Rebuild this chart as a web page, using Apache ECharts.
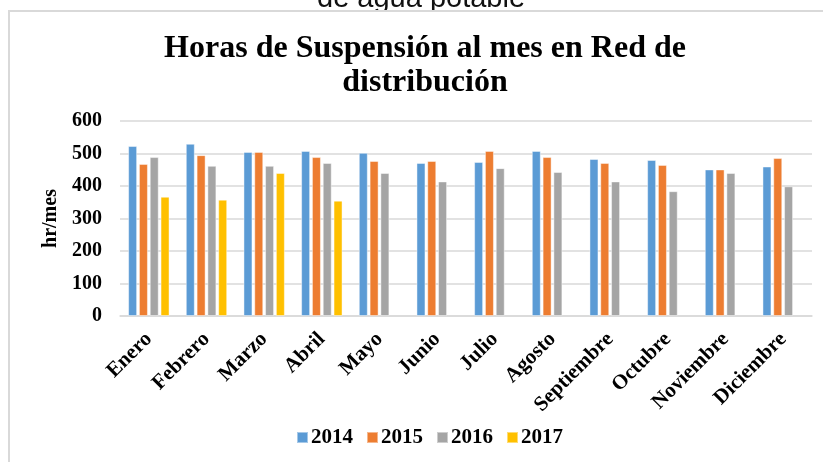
<!DOCTYPE html>
<html>
<head>
<meta charset="utf-8">
<script src="https://cdn.jsdelivr.net/npm/echarts@6/dist/echarts.min.js"></script>
<style>
  html, body { margin: 0; padding: 0; background: #fff; }
  #main { width: 823px; height: 462px; }
</style>
</head>
<body>
<div id="main"></div>
<script>
// meses y horas de suspension
var meses = ['Enero', 'Febrero', 'Marzo', 'Abril', 'Mayo', 'Junio', 'Julio',
    'Agosto', 'Septiembre', 'Octubre', 'Noviembre', 'Diciembre'];
var anios = ['2014', '2015', '2016', '2017'];
var horas2014 = [523, 530, 505, 508, 502, 471, 474, 508, 483, 480, 451, 460];
var horas2015 = [468, 495, 505, 489, 477, 477, 508, 489, 471, 465, 451, 486];
var horas2016 = [489, 462, 462, 471, 440, 414, 455, 443, 414, 384, 440, 399];
var horas2017 = [367, 358, 440, 355, null, null, null, null, null, null, null, null];
var yTicks = [0, 100, 200, 300, 400, 500, 600];

var colores = ['#5B9BD5', '#ED7D31', '#A5A5A5', '#FFC000'];
var serif = '"Liberation Serif", "Times New Roman", serif';

var myChart = echarts.init(document.getElementById('main'));

function barra(name, data, i) {
    return {
        name: name,
        type: 'bar',
        data: data,
        barWidth: 9,
        barGap: '20%',
        itemStyle: {
            color: colores[i],
            borderColor: 'rgba(255,255,255,0.45)',
            borderWidth: 1
        }
    };
}

myChart.setOption({
    animation: false,
    backgroundColor: '#fff',
    graphic: [
        {
            type: 'text',
            left: 317,
            top: -16,
            z: 0,
            style: {
                text: 'de agua potable',
                font: '29px "Liberation Sans", Arial, sans-serif',
                fill: '#111'
            }
        },
        {
            type: 'rect',
            shape: { x: 0, y: 11, width: 823, height: 8 },
            z: 1,
            style: { fill: '#fff' }
        },
        {
            type: 'rect',
            shape: { x: 9, y: 11, width: 830, height: 470 },
            z: 2,
            style: { fill: 'none', stroke: '#d9d9d9', lineWidth: 2 }
        }
    ],
    title: {
        text: 'Horas de Suspensión al mes en Red de\ndistribución',
        left: 420,
        textAlign: 'center',
        top: 27,
        textStyle: {
            fontFamily: serif,
            fontWeight: 'bold',
            fontSize: 32,
            lineHeight: 34,
            color: '#000'
        }
    },
    legend: {
        data: anios,
        bottom: 9,
        left: 291,
        itemWidth: 11,
        itemHeight: 11,
        itemGap: 13,
        icon: 'rect',
        textStyle: {
            fontFamily: serif,
            fontWeight: 'bold',
            fontSize: 21,
            color: '#000',
            padding: [0, 0, 0, -2]
        }
    },
    grid: {
        left: 120,
        right: 11,
        top: 121,
        bottom: 146
    },
    xAxis: {
        type: 'category',
        data: meses,
        axisLine: { lineStyle: { color: '#d9d9d9', width: 1.5 } },
        axisTick: { show: false },
        axisLabel: {
            rotate: 45,
            interval: 0,
            margin: 20,
            fontFamily: serif,
            fontWeight: 'bold',
            fontSize: 21,
            color: '#000'
        }
    },
    yAxis: {
        type: 'value',
        min: yTicks[0],
        max: yTicks[yTicks.length - 1],
        interval: 100,
        name: 'hr/mes',
        nameLocation: 'middle',
        nameGap: 55,
        nameTextStyle: {
            fontFamily: serif,
            fontWeight: 'bold',
            fontSize: 20,
            color: '#000'
        },
        axisLine: { show: false },
        axisTick: { show: false },
        splitLine: { lineStyle: { color: '#d9d9d9', width: 1.5 } },
        axisLabel: {
            margin: 18,
            fontFamily: serif,
            fontWeight: 'bold',
            fontSize: 20,
            color: '#000'
        }
    },
    series: [
        barra(anios[0], horas2014, 0),
        barra(anios[1], horas2015, 1),
        barra(anios[2], horas2016, 2),
        barra(anios[3], horas2017, 3)
    ]
});
</script>
</body>
</html>
